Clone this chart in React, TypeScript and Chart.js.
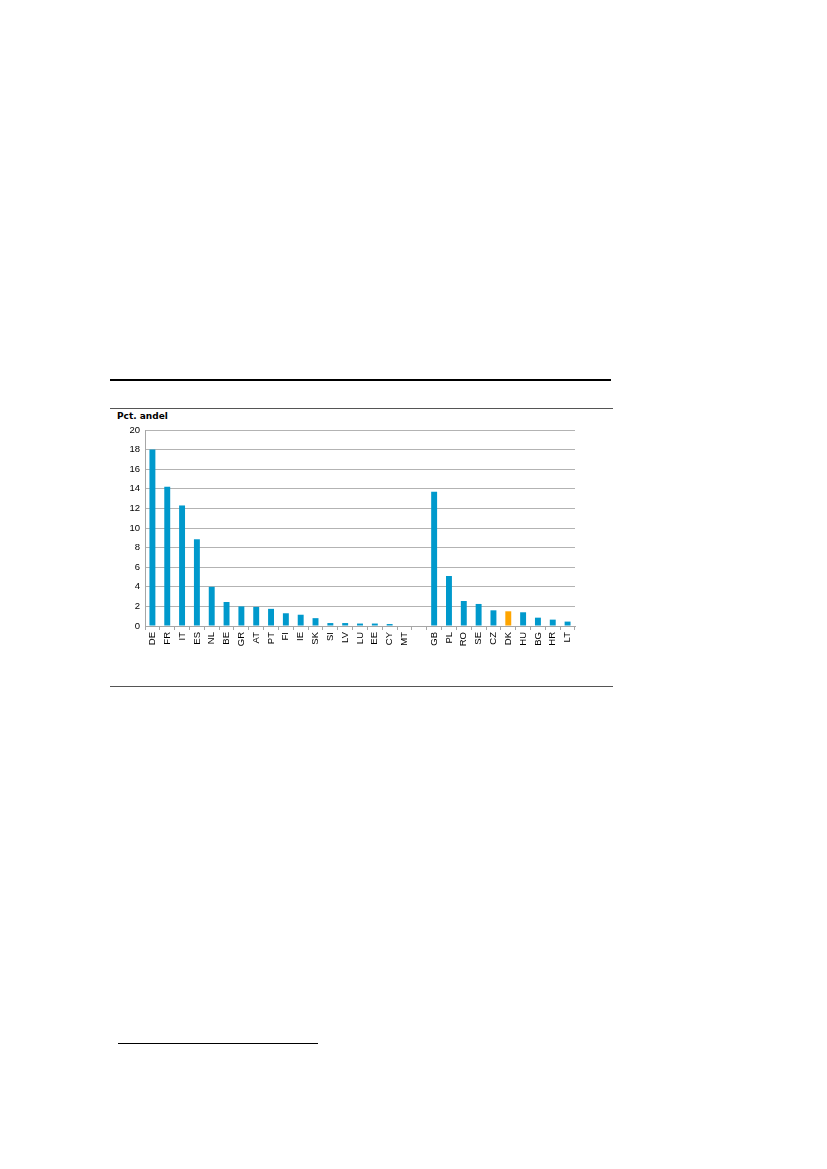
import React, { useEffect, useRef } from 'react';
import { Chart, registerables } from 'chart.js';

Chart.register(...registerables);

// Eurozone countries, one empty slot, then the other EU members
const countries = [
  'DE', 'FR', 'IT', 'ES', 'NL', 'BE', 'GR', 'AT', 'PT', 'FI', 'IE', 'SK', 'SI', 'LV', 'LU', 'EE', 'CY', 'MT',
  '',
  'GB', 'PL', 'RO', 'SE', 'CZ', 'DK', 'HU', 'BG', 'HR', 'LT',
];
const shares = [
  18.0, 14.2, 12.3, 8.85, 4.0, 2.45, 2.0, 1.95, 1.75, 1.3, 1.15, 0.8, 0.3, 0.3, 0.25, 0.25, 0.2, 0,
  null,
  13.7, 5.1, 2.55, 2.25, 1.6, 1.5, 1.4, 0.85, 0.65, 0.45,
];
const yTicks = [0, 2, 4, 6, 8, 10, 12, 14, 16, 18, 20];

const BLUE = '#0099cc';
const ORANGE = '#ffa500';

const line = (top: number, left: number, width: number, h: number, color: string): React.CSSProperties => ({
  position: 'absolute',
  top,
  left,
  width,
  height: h,
  background: color,
});

const App: React.FC = () => {
  const canvasRef = useRef<HTMLCanvasElement | null>(null);

  useEffect(() => {
    const el = canvasRef.current;
    if (!el) return;
    const ctx = el.getContext('2d');
    if (!ctx) return;

    const chart = new Chart(ctx, {
      type: 'bar',
      data: {
        labels: countries,
        datasets: [
          {
            data: shares,
            backgroundColor: countries.map((c) => (c === 'DK' ? ORANGE : BLUE)),
            borderWidth: 0,
            barPercentage: 0.4,
            categoryPercentage: 1,
          },
        ],
      },
      options: {
        animation: false,
        responsive: false,
        maintainAspectRatio: false,
        layout: { padding: { top: 20, right: 38, left: 0, bottom: 0 } },
        plugins: {
          legend: { display: false },
          tooltip: { enabled: false },
          title: { display: false },
        },
        scales: {
          x: {
            offset: true,
            grid: {
              offset: true,
              drawOnChartArea: false,
              drawTicks: true,
              tickLength: 4,
              color: '#a6a6a6',
            },
            border: { color: '#a6a6a6' },
            ticks: {
              autoSkip: false,
              minRotation: 90,
              maxRotation: 90,
              padding: 2,
              color: '#000',
              font: { family: 'Liberation Sans, Arial, sans-serif', size: 9.5 },
            },
            afterFit: (scale: any) => {
              scale.height = 40;
            },
          },
          y: {
            min: 0,
            max: 20,
            afterBuildTicks: (scale: any) => {
              scale.ticks = yTicks.map((v) => ({ value: v }));
            },
            grid: {
              color: '#b3b3b3',
              drawTicks: false,
            },
            border: { color: '#a6a6a6' },
            ticks: {
              padding: 5,
              color: '#000',
              font: { family: 'Liberation Sans, Arial, sans-serif', size: 9.5 },
            },
            afterFit: (scale: any) => {
              scale.width = 35;
            },
          },
        },
      },
    });

    return () => {
      chart.destroy();
    };
  }, []);

  return (
    <div style={{ position: 'absolute', left: 0, top: 0, width: 827, height: 1169, background: '#fff' }}>
      <div style={line(379, 110, 501, 2, '#000')} />
      <div style={line(408, 110, 503, 1, '#555')} />
      <div
        style={{
          position: 'absolute',
          left: 117,
          top: 411,
          fontFamily: 'DejaVu Sans, Verdana, sans-serif',
          fontWeight: 'bold',
          fontSize: 9,
          color: '#000',
        }}
      >
        Pct. andel
      </div>
      <canvas
        ref={canvasRef}
        width={503}
        height={256}
        style={{ position: 'absolute', left: 110, top: 410, width: 503, height: 256 }}
      />
      <div style={line(686, 110, 503, 1, '#555')} />
      <div style={line(1043, 118, 200, 1, '#000')} />
    </div>
  );
};

export default App;
